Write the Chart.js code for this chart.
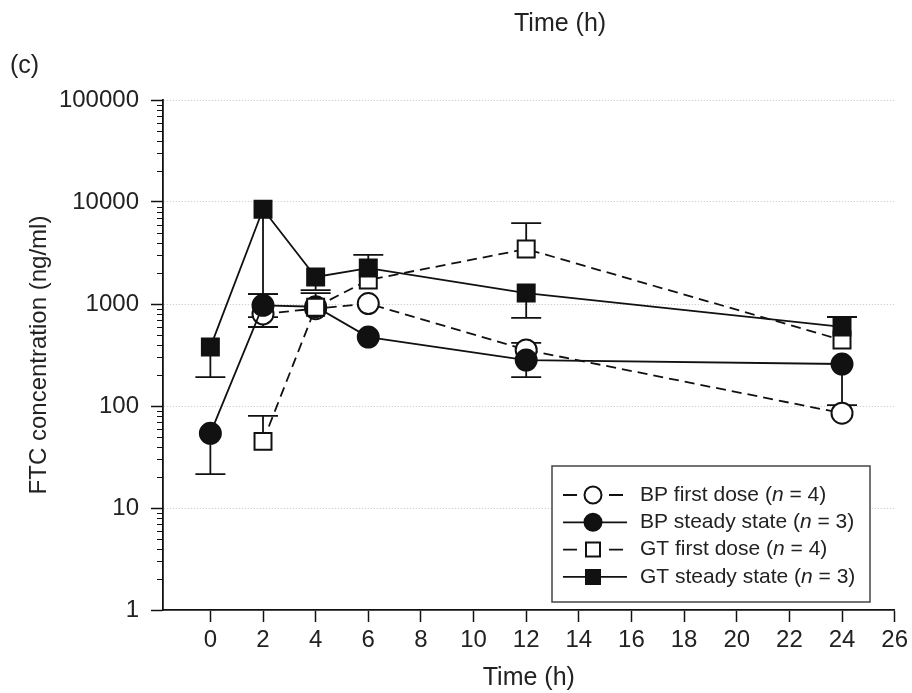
<!DOCTYPE html>
<html lang="en">
  <head>
    <meta charset="UTF-8" />
    <title>FTC concentration</title>
    <script src="https://cdn.jsdelivr.net/npm/chart.js@4.4.0/dist/chart.umd.min.js"></script>
    <style>
      body { margin: 0; background: #fff; }
      #wrap { position: relative; width: 912px; height: 693px; }
      .lbl { position: absolute; font-family: 'Liberation Sans', Arial, sans-serif; font-size: 25px; color: #222; line-height: 28px; white-space: nowrap; }
    </style>
  </head>
  <body>
    <div id="wrap">
      <canvas id="chart"></canvas>
      <div class="lbl" style="left:514px; top:8px;">Time (h)</div>
      <div class="lbl" style="left:10px; top:50px;">(c)</div>
    </div>
    <script>
      // hours / ng/ml
      const xTicks = [0, 2, 4, 6, 8, 10, 12, 14, 16, 18, 20, 22, 24, 26]
      const yTicks = [1, 10, 100, 1000, 10000, 100000]

      const bpFirstX = [2, 4, 6, 12, 24]
      const bpFirstY = [800, 900, 1010, 355, 85]
      const bpFirstUp = [null, null, null, 415, null]
      const bpFirstDown = [595, null, null, null, null]

      const bpSteadyX = [0, 2, 4, 6, 12, 24]
      const bpSteadyY = [54, 970, 940, 474, 282, 258]
      const bpSteadyUp = [null, 1250, null, null, null, null]
      const bpSteadyDown = [21.5, 745, null, null, 192, 102]

      const gtFirstX = [2, 4, 6, 12, 24]
      const gtFirstY = [45, 930, 1720, 3460, 443]
      const gtFirstUp = [80, 1280, null, 6220, null]
      const gtFirstDown = [null, null, null, null, null]

      const gtSteadyX = [0, 2, 4, 6, 12, 24]
      const gtSteadyY = [378, 8500, 1840, 2250, 1280, 596]
      const gtSteadyUp = [null, null, null, 3030, null, 746]
      const gtSteadyDown = [192, 1250, 1370, null, 730, null]

      const legendLabels = [
        ['BP first dose (', 'n', ' = 4)'],
        ['BP steady state (', 'n', ' = 3)'],
        ['GT first dose (', 'n', ' = 4)'],
        ['GT steady state (', 'n', ' = 3)'],
      ]

      const INK = '#111'
      const FONT = "'Liberation Sans', Arial, sans-serif"
      Chart.defaults.font.family = FONT
      Chart.defaults.color = '#222'

      const series = [
        { x: bpFirstX, y: bpFirstY, up: bpFirstUp, down: bpFirstDown, style: 'circle', fill: '#fff', dash: [10, 6] },
        { x: bpSteadyX, y: bpSteadyY, up: bpSteadyUp, down: bpSteadyDown, style: 'circle', fill: INK, dash: [] },
        { x: gtFirstX, y: gtFirstY, up: gtFirstUp, down: gtFirstDown, style: 'rect', fill: '#fff', dash: [10, 6] },
        { x: gtSteadyX, y: gtSteadyY, up: gtSteadyUp, down: gtSteadyDown, style: 'rect', fill: INK, dash: [] },
      ]

      // drawing order: first in the list ends up on top
      const drawOrder = [3, 2, 1, 0]
      const datasets = drawOrder.map((i) => {
        const s = series[i]
        return {
          label: legendLabels[i].join(''),
          data: s.x.map((x, k) => ({ x: x, y: s.y[k] })),
          borderColor: INK,
          borderWidth: 1.8,
          borderDash: s.dash,
          pointStyle: s.style,
          pointRadius: s.style === 'rect' ? 12 : 10.5,
          pointBackgroundColor: s.fill,
          pointBorderColor: INK,
          pointBorderWidth: 2,
          fill: false,
          tension: 0,
        }
      })

      const errorBars = {
        id: 'errorBars',
        beforeDatasetsDraw(chart) {
          const ctx = chart.ctx
          const xs = chart.scales.x
          const ys = chart.scales.y
          ctx.save()
          ctx.strokeStyle = INK
          ctx.lineWidth = 1.8
          series.forEach((s) => {
            s.x.forEach((x, k) => {
              const px = xs.getPixelForValue(x)
              const py = ys.getPixelForValue(s.y[k])
              ;[s.up[k], s.down[k]].forEach((e) => {
                if (e == null) return
                const ey = ys.getPixelForValue(e)
                ctx.beginPath()
                ctx.moveTo(px, py)
                ctx.lineTo(px, ey)
                ctx.moveTo(px - 15, ey)
                ctx.lineTo(px + 15, ey)
                ctx.stroke()
              })
            })
          })
          ctx.restore()
        },
      }

      const minorTicks = {
        id: 'minorTicks',
        afterDraw(chart) {
          const ctx = chart.ctx
          const ys = chart.scales.y
          const left = chart.chartArea.left
          ctx.save()
          ctx.strokeStyle = INK
          ctx.lineWidth = 1
          for (let d = 1; d < 100000; d *= 10) {
            for (let k = 2; k <= 9; k++) {
              const py = Math.round(ys.getPixelForValue(k * d)) + 0.5
              ctx.beginPath()
              ctx.moveTo(left - 6, py)
              ctx.lineTo(left, py)
              ctx.stroke()
            }
          }
          ctx.restore()
        },
      }

      const boxLegend = {
        id: 'boxLegend',
        afterDraw(chart) {
          const ctx = chart.ctx
          const bx = 552, by = 466, bw = 318, bh = 136
          ctx.save()
          ctx.fillStyle = '#fff'
          ctx.fillRect(bx, by, bw, bh)
          ctx.strokeStyle = '#444'
          ctx.lineWidth = 1.5
          ctx.strokeRect(bx, by, bw, bh)
          series.forEach((s, i) => {
            const cy = 495 + i * 27.3
            const cx = 593
            ctx.strokeStyle = INK
            ctx.lineWidth = 1.8
            ctx.beginPath()
            if (s.dash.length) {
              ctx.moveTo(563, cy); ctx.lineTo(577, cy)
              ctx.moveTo(609, cy); ctx.lineTo(623, cy)
            } else {
              ctx.moveTo(563, cy); ctx.lineTo(627, cy)
            }
            ctx.stroke()
            ctx.fillStyle = s.fill
            ctx.lineWidth = 2
            ctx.beginPath()
            if (s.style === 'circle') ctx.arc(cx, cy, 8.5, 0, Math.PI * 2)
            else ctx.rect(cx - 7, cy - 7, 14, 14)
            ctx.fill()
            ctx.stroke()
            let tx = 640
            ctx.fillStyle = '#222'
            ctx.textBaseline = 'middle'
            legendLabels[i].forEach((part, j) => {
              ctx.font = (j === 1 ? 'italic ' : '') + '21px ' + FONT
              ctx.fillText(part, tx, cy)
              tx += ctx.measureText(part).width
            })
          })
          ctx.restore()
        },
      }

      const ctx = document.getElementById('chart').getContext('2d')
      const myChart = new Chart(ctx, {
        type: 'line',
        data: { datasets: datasets },
        plugins: [errorBars, minorTicks, boxLegend],
        options: {
          responsive: true,
          maintainAspectRatio: false,
          animation: false,
          layout: { padding: { top: 100, right: 16, left: 0, bottom: 0 } },
          plugins: { legend: { display: false }, tooltip: { enabled: false } },
          scales: {
            x: {
              type: 'linear',
              min: -1.8,
              max: 26,
              afterBuildTicks: (scale) => {
                scale.ticks = xTicks.map((v) => ({ value: v }))
              },
              afterFit: (scale) => {
                scale.height = 83
              },
              grid: { drawOnChartArea: false, tickLength: 12, tickColor: INK, tickWidth: 1.5 },
              border: { color: INK, width: 1.8 },
              ticks: { autoSkip: false, maxRotation: 0, padding: 4, font: { size: 24 }, color: '#222' },
              title: { display: true, text: 'Time (h)', font: { size: 25 }, color: '#222', padding: { top: 0, bottom: 0 } },
            },
            y: {
              type: 'logarithmic',
              min: 1,
              max: 100000,
              afterBuildTicks: (scale) => {
                scale.ticks = yTicks.map((v) => ({ value: v, major: true }))
              },
              afterFit: (scale) => {
                scale.width = 163
              },
              grid: {
                color: (c) => (c.tick && c.tick.value === 1 ? 'rgba(0,0,0,0)' : '#c4c4c4'),
                lineWidth: 1,
                tickLength: 12,
                tickColor: INK,
                tickWidth: 1.5,
              },
              border: { color: INK, width: 1.8, dash: [1, 2] },
              ticks: {
                autoSkip: false,
                padding: 12,
                font: { size: 24 },
                color: '#222',
                callback: (v) => String(v),
              },
              title: { display: true, text: 'FTC concentration (ng/ml)', font: { size: 24 }, color: '#222', padding: { top: 25, bottom: 4 } },
            },
          },
        },
      })
    </script>
  </body>
</html>
